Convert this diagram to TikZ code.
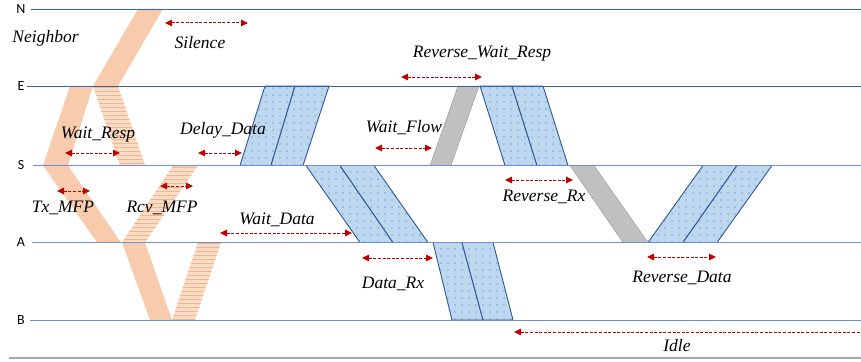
\documentclass[tikz,border=0pt]{standalone}
\usepackage{fontspec}
\setmainfont{Liberation Serif}
\setsansfont{Carlito}
\newfontfamily\captionfont{Liberation Serif}
\usetikzlibrary{arrows.meta,patterns}

\definecolor{leveldark}{HTML}{3A62B4}
\definecolor{levellight}{HTML}{6F90CF}
\definecolor{orangefill}{HTML}{F8CBAD}
\definecolor{hatchfill}{HTML}{FADCC6}
\definecolor{hatchline}{HTML}{F4B48C}
\definecolor{bluefill}{HTML}{BDD7EE}
\definecolor{bluedot}{HTML}{2E75B6}
\definecolor{blueedge}{HTML}{2F5597}
\definecolor{greyfill}{HTML}{C0C0C0}
\definecolor{greyedge}{HTML}{A0A0A0}
\definecolor{arrowred}{HTML}{C00000}
\definecolor{baseline}{HTML}{A6A6A6}

% horizontal stripes and a dot grid, in absolute units
\pgfdeclarepatternformonly{hstripes}{\pgfpoint{-1pt}{0pt}}{\pgfpoint{1pt}{4pt}}{\pgfpoint{1pt}{4pt}}%
  {\pgfsetlinewidth{1pt}\pgfpathmoveto{\pgfpoint{-1pt}{1pt}}\pgfpathlineto{\pgfpoint{1pt}{1pt}}\pgfusepath{stroke}}
\pgfdeclarepatternformonly{bluedots}{\pgfpoint{-1pt}{-1pt}}{\pgfpoint{1pt}{1pt}}{\pgfpoint{7pt}{7pt}}%
  {\pgfpathcircle{\pgfpointorigin}{0.6pt}\pgfusepath{fill}}

\def\yN{9}
\def\yE{86}
\def\yS{165.5}
\def\yA{242.5}
\def\yB{320}

% two adjacent blue frames between two levels:
% #1 upper level, #2-#4 x positions there; #5 lower level, #6-#8 x positions there
\newcommand\framepair[8]{%
  \path[bluepacket] (#2,#1) -- (#3,#1) -- (#7,#5) -- (#6,#5) -- cycle;
  \path[bluepacket] (#3,#1) -- (#4,#1) -- (#8,#5) -- (#7,#5) -- cycle;
}

\begin{document}
\begin{tikzpicture}[x=1pt,y=-1pt,
  level/.style={draw=levellight, line width=0.8pt},
  leveltop/.style={draw=leveldark, line width=0.8pt},
  levelname/.style={font=\sffamily\fontsize{14}{16}\selectfont, inner sep=0pt},
  caption/.style={font=\captionfont\itshape\fontsize{17.5}{20}\selectfont, inner sep=0pt},
  orangeband/.style={fill=orangefill},
  hatchband/.style={preaction={fill=hatchfill}, pattern=hstripes, pattern color=hatchline},
  bluepacket/.style={preaction={fill=bluefill}, pattern=bluedots, pattern color=bluedot,
                     draw=blueedge, line width=0.9pt, line join=round},
  greypacket/.style={fill=greyfill, draw=greyedge, line width=0.5pt},
  span/.style={draw=arrowred, line width=1pt, dash pattern=on 3pt off 1.6pt,
               {Triangle[length=7pt,width=6.5pt]}-{Triangle[length=7pt,width=6.5pt]}},
  leftspan/.style={draw=arrowred, line width=1pt, dash pattern=on 3pt off 1.6pt,
               {Triangle[length=7pt,width=6.5pt]}-},
]
\useasboundingbox (0,0) rectangle (861,361);

% ---- MFP exchange (orange) ----
\path[orangeband] (138,\yN) -- (163,\yN) -- (118,\yE) -- (93,\yE) -- cycle;
\path[orangeband] (70,\yE) -- (93,\yE) -- (68,\yS) -- (43,\yS) -- cycle;
\path[hatchband]  (93,\yE) -- (118,\yE) -- (145,\yS) -- (120,\yS) -- cycle;
\path[orangeband] (43,\yS) -- (68,\yS) -- (121,\yA) -- (97,\yA) -- cycle;
\path[hatchband]  (122,\yA) -- (145,\yA) -- (198,\yS) -- (173,\yS) -- cycle;
\path[orangeband] (122,\yA) -- (145,\yA) -- (172,\yB) -- (150,\yB) -- cycle;
\path[hatchband]  (172,\yB) -- (195,\yB) -- (221,\yA) -- (198,\yA) -- cycle;

% ---- data frames (blue) ----
\framepair{\yE}{265}{295}{329}{\yS}{240}{271}{303}
\framepair{\yS}{306}{340}{374}{\yA}{360}{393}{428}
\framepair{\yA}{433}{462}{493}{\yB}{452}{483}{513}
\framepair{\yE}{480}{512}{543}{\yS}{505}{537}{568}
\framepair{\yS}{703}{737}{772}{\yA}{648}{683}{717}

% ---- flow control frames (grey) ----
\path[greypacket] (458,\yE) -- (479,\yE) -- (451,\yS) -- (430,\yS) -- cycle;
\path[greypacket] (570,\yS) -- (594,\yS) -- (648,\yA) -- (623,\yA) -- cycle;

% ---- levels ----
\node[levelname] (lN) at (21,\yN) {N};
\node[levelname] (lE) at (21,\yE) {E};
\node[levelname] (lS) at (21,\yS) {S};
\node[levelname] (lA) at (21,\yA) {A};
\node[levelname] (lB) at (21,\yB) {B};
\coordinate (sN) at (31,\yN);  \coordinate (eN) at (861,\yN);
\coordinate (sE) at (27,\yE);  \coordinate (eE) at (861,\yE);
\coordinate (sS) at (33,\yS);  \coordinate (eS) at (861,\yS);
\coordinate (sA) at (32,\yA);  \coordinate (eA) at (861,\yA);
\coordinate (sB) at (30,\yB);  \coordinate (eB) at (861,\yB);
\draw[leveltop] (sN) -- (eN);
\draw[leveltop] (sE) -- (eE);
\draw[level] (sS) -- (eS);
\draw[level] (sA) -- (eA);
\draw[level] (sB) -- (eB);
\coordinate (baseL) at (9,358);
\coordinate (baseR) at (861,358);
\draw[draw=baseline, line width=1.4pt] (baseL) -- (baseR);

% ---- interval spans ----
\coordinate (silL) at (165,23);  \coordinate (silR) at (248,23);
\coordinate (wrL) at (65,153);   \coordinate (wrR) at (120,153);
\coordinate (ddL) at (198,153);  \coordinate (ddR) at (242,153);
\coordinate (txL) at (57,191);   \coordinate (txR) at (90,191);
\coordinate (rcL) at (160,186);  \coordinate (rcR) at (193,186);
\coordinate (wdL) at (220,233);  \coordinate (wdR) at (352,233);
\coordinate (wfL) at (375,148);  \coordinate (wfR) at (432,148);
\coordinate (rwL) at (401,77);   \coordinate (rwR) at (482,77);
\coordinate (rxL) at (505,180);  \coordinate (rxR) at (573,180);
\coordinate (drL) at (362,258);  \coordinate (drR) at (433,258);
\coordinate (rdL) at (647,257);  \coordinate (rdR) at (716,257);
\coordinate (idL) at (514,332);  \coordinate (idR) at (861,332);
\draw[span] (silL) -- (silR);
\draw[span] (wrL) -- (wrR);
\draw[span] (ddL) -- (ddR);
\draw[span] (txL) -- (txR);
\draw[span] (rcL) -- (rcR);
\draw[span] (wdL) -- (wdR);
\draw[span] (wfL) -- (wfR);
\draw[span] (rwL) -- (rwR);
\draw[span] (rxL) -- (rxR);
\draw[span] (drL) -- (drR);
\draw[span] (rdL) -- (rdR);
\draw[leftspan] (idL) -- (idR);

% ---- captions ----
\node[caption] (tNeighbor) at (45.5,38) {Neighbor};
\node[caption] (tSilence) at (200,43) {Silence};
\node[caption] (tWaitResp) at (98,135) {Wait\_Resp};
\node[caption] (tDelayData) at (223,130) {Delay\_Data};
\node[caption] (tTxMFP) at (63,208) {Tx\_MFP};
\node[caption] (tRcvMFP) at (162,208) {Rcv\_MFP};
\node[caption] (tWaitData) at (277,220) {Wait\_Data};
\node[caption] (tWaitFlow) at (404,128) {Wait\_Flow};
\node[caption] (tRevWait) at (482,54) {Reverse\_Wait\_Resp};
\node[caption] (tRevRx) at (544,197) {Reverse\_Rx};
\node[caption] (tDataRx) at (393,284) {Data\_Rx};
\node[caption] (tRevData) at (682,278) {Reverse\_Data};
\node[caption] (tIdle) at (677,346) {Idle};
\end{tikzpicture}
\end{document}
